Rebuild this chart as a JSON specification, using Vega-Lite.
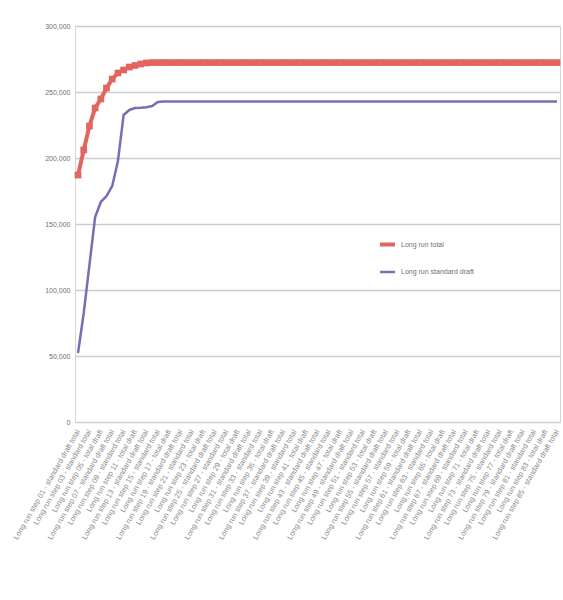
{
  "$schema": "https://vega.github.io/schema/vega-lite/v6.json",
  "width": 485,
  "height": 396,
  "autosize": "none",
  "padding": {"left": 75, "top": 26, "right": 3, "bottom": 178},
  "background": "#ffffff",
  "config": {"view": {"stroke": "#d6d6d6", "strokeWidth": 1}, "font": "Liberation Sans"},
  "data": {"values": [
    {"cat": "Long run step 01 - standard draft total", "Long run total": 187100, "Long run standard draft": 52300},
    {"cat": "Long run step 02 - total draft", "Long run total": 206100, "Long run standard draft": 82600},
    {"cat": "Long run step 03 - standard total", "Long run total": 224200, "Long run standard draft": 118900},
    {"cat": "Long run step 04 - standard draft total", "Long run total": 237900, "Long run standard draft": 155300},
    {"cat": "Long run step 05 - total draft", "Long run total": 244700, "Long run standard draft": 166700},
    {"cat": "Long run step 06 - standard total", "Long run total": 253000, "Long run standard draft": 171200},
    {"cat": "Long run step 07 - standard draft total", "Long run total": 259800, "Long run standard draft": 178800},
    {"cat": "Long run step 08 - total draft", "Long run total": 264400, "Long run standard draft": 197700},
    {"cat": "Long run step 09 - standard total", "Long run total": 266700, "Long run standard draft": 232600},
    {"cat": "Long run step 10 - standard draft total", "Long run total": 268900, "Long run standard draft": 236400},
    {"cat": "Long run step 11 - total draft", "Long run total": 270100, "Long run standard draft": 237900},
    {"cat": "Long run step 12 - standard total", "Long run total": 271200, "Long run standard draft": 238100},
    {"cat": "Long run step 13 - standard draft total", "Long run total": 272000, "Long run standard draft": 238400},
    {"cat": "Long run step 14 - total draft", "Long run total": 272300, "Long run standard draft": 239400},
    {"cat": "Long run step 15 - standard total", "Long run total": 272300, "Long run standard draft": 242400},
    {"cat": "Long run step 16 - standard draft total", "Long run total": 272300, "Long run standard draft": 242800},
    {"cat": "Long run step 17 - total draft", "Long run total": 272300, "Long run standard draft": 242800},
    {"cat": "Long run step 18 - standard total", "Long run total": 272300, "Long run standard draft": 242800},
    {"cat": "Long run step 19 - standard draft total", "Long run total": 272300, "Long run standard draft": 242800},
    {"cat": "Long run step 20 - total draft", "Long run total": 272300, "Long run standard draft": 242800},
    {"cat": "Long run step 21 - standard total", "Long run total": 272300, "Long run standard draft": 242800},
    {"cat": "Long run step 22 - standard draft total", "Long run total": 272300, "Long run standard draft": 242800},
    {"cat": "Long run step 23 - total draft", "Long run total": 272300, "Long run standard draft": 242800},
    {"cat": "Long run step 24 - standard total", "Long run total": 272300, "Long run standard draft": 242800},
    {"cat": "Long run step 25 - standard draft total", "Long run total": 272300, "Long run standard draft": 242800},
    {"cat": "Long run step 26 - total draft", "Long run total": 272300, "Long run standard draft": 242800},
    {"cat": "Long run step 27 - standard total", "Long run total": 272300, "Long run standard draft": 242800},
    {"cat": "Long run step 28 - standard draft total", "Long run total": 272300, "Long run standard draft": 242800},
    {"cat": "Long run step 29 - total draft", "Long run total": 272300, "Long run standard draft": 242800},
    {"cat": "Long run step 30 - standard total", "Long run total": 272300, "Long run standard draft": 242800},
    {"cat": "Long run step 31 - standard draft total", "Long run total": 272300, "Long run standard draft": 242800},
    {"cat": "Long run step 32 - total draft", "Long run total": 272300, "Long run standard draft": 242800},
    {"cat": "Long run step 33 - standard total", "Long run total": 272300, "Long run standard draft": 242800},
    {"cat": "Long run step 34 - standard draft total", "Long run total": 272300, "Long run standard draft": 242800},
    {"cat": "Long run step 35 - total draft", "Long run total": 272300, "Long run standard draft": 242800},
    {"cat": "Long run step 36 - standard total", "Long run total": 272300, "Long run standard draft": 242800},
    {"cat": "Long run step 37 - standard draft total", "Long run total": 272300, "Long run standard draft": 242800},
    {"cat": "Long run step 38 - total draft", "Long run total": 272300, "Long run standard draft": 242800},
    {"cat": "Long run step 39 - standard total", "Long run total": 272300, "Long run standard draft": 242800},
    {"cat": "Long run step 40 - standard draft total", "Long run total": 272300, "Long run standard draft": 242800},
    {"cat": "Long run step 41 - total draft", "Long run total": 272300, "Long run standard draft": 242800},
    {"cat": "Long run step 42 - standard total", "Long run total": 272300, "Long run standard draft": 242800},
    {"cat": "Long run step 43 - standard draft total", "Long run total": 272300, "Long run standard draft": 242800},
    {"cat": "Long run step 44 - total draft", "Long run total": 272300, "Long run standard draft": 242800},
    {"cat": "Long run step 45 - standard total", "Long run total": 272300, "Long run standard draft": 242800},
    {"cat": "Long run step 46 - standard draft total", "Long run total": 272300, "Long run standard draft": 242800},
    {"cat": "Long run step 47 - total draft", "Long run total": 272300, "Long run standard draft": 242800},
    {"cat": "Long run step 48 - standard total", "Long run total": 272300, "Long run standard draft": 242800},
    {"cat": "Long run step 49 - standard draft total", "Long run total": 272300, "Long run standard draft": 242800},
    {"cat": "Long run step 50 - total draft", "Long run total": 272300, "Long run standard draft": 242800},
    {"cat": "Long run step 51 - standard total", "Long run total": 272300, "Long run standard draft": 242800},
    {"cat": "Long run step 52 - standard draft total", "Long run total": 272300, "Long run standard draft": 242800},
    {"cat": "Long run step 53 - total draft", "Long run total": 272300, "Long run standard draft": 242800},
    {"cat": "Long run step 54 - standard total", "Long run total": 272300, "Long run standard draft": 242800},
    {"cat": "Long run step 55 - standard draft total", "Long run total": 272300, "Long run standard draft": 242800},
    {"cat": "Long run step 56 - total draft", "Long run total": 272300, "Long run standard draft": 242800},
    {"cat": "Long run step 57 - standard total", "Long run total": 272300, "Long run standard draft": 242800},
    {"cat": "Long run step 58 - standard draft total", "Long run total": 272300, "Long run standard draft": 242800},
    {"cat": "Long run step 59 - total draft", "Long run total": 272300, "Long run standard draft": 242800},
    {"cat": "Long run step 60 - standard total", "Long run total": 272300, "Long run standard draft": 242800},
    {"cat": "Long run step 61 - standard draft total", "Long run total": 272300, "Long run standard draft": 242800},
    {"cat": "Long run step 62 - total draft", "Long run total": 272300, "Long run standard draft": 242800},
    {"cat": "Long run step 63 - standard total", "Long run total": 272300, "Long run standard draft": 242800},
    {"cat": "Long run step 64 - standard draft total", "Long run total": 272300, "Long run standard draft": 242800},
    {"cat": "Long run step 65 - total draft", "Long run total": 272300, "Long run standard draft": 242800},
    {"cat": "Long run step 66 - standard total", "Long run total": 272300, "Long run standard draft": 242800},
    {"cat": "Long run step 67 - standard draft total", "Long run total": 272300, "Long run standard draft": 242800},
    {"cat": "Long run step 68 - total draft", "Long run total": 272300, "Long run standard draft": 242800},
    {"cat": "Long run step 69 - standard total", "Long run total": 272300, "Long run standard draft": 242800},
    {"cat": "Long run step 70 - standard draft total", "Long run total": 272300, "Long run standard draft": 242800},
    {"cat": "Long run step 71 - total draft", "Long run total": 272300, "Long run standard draft": 242800},
    {"cat": "Long run step 72 - standard total", "Long run total": 272300, "Long run standard draft": 242800},
    {"cat": "Long run step 73 - standard draft total", "Long run total": 272300, "Long run standard draft": 242800},
    {"cat": "Long run step 74 - total draft", "Long run total": 272300, "Long run standard draft": 242800},
    {"cat": "Long run step 75 - standard total", "Long run total": 272300, "Long run standard draft": 242800},
    {"cat": "Long run step 76 - standard draft total", "Long run total": 272300, "Long run standard draft": 242800},
    {"cat": "Long run step 77 - total draft", "Long run total": 272300, "Long run standard draft": 242800},
    {"cat": "Long run step 78 - standard total", "Long run total": 272300, "Long run standard draft": 242800},
    {"cat": "Long run step 79 - standard draft total", "Long run total": 272300, "Long run standard draft": 242800},
    {"cat": "Long run step 80 - total draft", "Long run total": 272300, "Long run standard draft": 242800},
    {"cat": "Long run step 81 - standard total", "Long run total": 272300, "Long run standard draft": 242800},
    {"cat": "Long run step 82 - standard draft total", "Long run total": 272300, "Long run standard draft": 242800},
    {"cat": "Long run step 83 - total draft", "Long run total": 272300, "Long run standard draft": 242800},
    {"cat": "Long run step 84 - standard total", "Long run total": 272300, "Long run standard draft": 242800},
    {"cat": "Long run step 85 - standard draft total", "Long run total": 272300, "Long run standard draft": 242800}
  ]},
  "transform": [
    {"fold": ["Long run total", "Long run standard draft"], "as": ["series", "value"]}
  ],
  "encoding": {
    "x": {
      "field": "cat", "type": "nominal", "sort": null,
      "scale": {"type": "point", "padding": 0.53},
      "axis": {"title": null, "labelAngle": -60, "labelFontSize": 7.5, "labelColor": "#8c8c8c",
               "ticks": false, "domain": true, "domainColor": "#d0d0d0", "labelPadding": 8,
               "labelLimit": 200, "labelOverlap": false, "grid": false,
               "values": [
                 "Long run step 01 - standard draft total", "Long run step 03 - standard total",
                 "Long run step 05 - total draft", "Long run step 07 - standard draft total",
                 "Long run step 09 - standard total", "Long run step 11 - total draft",
                 "Long run step 13 - standard draft total", "Long run step 15 - standard total",
                 "Long run step 17 - total draft", "Long run step 19 - standard draft total",
                 "Long run step 21 - standard total", "Long run step 23 - total draft",
                 "Long run step 25 - standard draft total", "Long run step 27 - standard total",
                 "Long run step 29 - total draft", "Long run step 31 - standard draft total",
                 "Long run step 33 - standard total", "Long run step 35 - total draft",
                 "Long run step 37 - standard draft total", "Long run step 39 - standard total",
                 "Long run step 41 - total draft", "Long run step 43 - standard draft total",
                 "Long run step 45 - standard total", "Long run step 47 - total draft",
                 "Long run step 49 - standard draft total", "Long run step 51 - standard total",
                 "Long run step 53 - total draft", "Long run step 55 - standard draft total",
                 "Long run step 57 - standard total", "Long run step 59 - total draft",
                 "Long run step 61 - standard draft total", "Long run step 63 - standard total",
                 "Long run step 65 - total draft", "Long run step 67 - standard draft total",
                 "Long run step 69 - standard total", "Long run step 71 - total draft",
                 "Long run step 73 - standard draft total", "Long run step 75 - standard total",
                 "Long run step 77 - total draft", "Long run step 79 - standard draft total",
                 "Long run step 81 - standard total", "Long run step 83 - total draft",
                 "Long run step 85 - standard draft total"
               ]}
    },
    "y": {
      "field": "value", "type": "quantitative",
      "scale": {"domain": [0, 300000], "nice": false},
      "axis": {"title": null, "values": [0, 50000, 100000, 150000, 200000, 250000, 300000],
               "format": ",d", "labelFontSize": 7, "labelColor": "#707070", "labelPadding": 5,
               "gridColor": "#cdcdcd", "gridWidth": 1.5, "domain": false, "ticks": false}
    },
    "color": {
      "field": "series", "type": "nominal",
      "scale": {"domain": ["Long run total", "Long run standard draft"], "range": ["#e2655f", "#7a6db5"]},
      "legend": {"title": null, "orient": "none", "legendX": 303, "legendY": 209,
                 "symbolType": "stroke", "symbolSize": 225, "symbolStrokeWidth": 3,
                 "labelFontSize": 7, "labelColor": "#707070", "rowPadding": 10}
    }
  },
  "layer": [
    {
      "mark": {"type": "line"},
      "encoding": {
        "strokeWidth": {"field": "series", "type": "nominal",
                        "scale": {"domain": ["Long run total", "Long run standard draft"], "range": [4, 2.5]},
                        "legend": null}
      }
    },
    {
      "transform": [{"filter": "datum.series === 'Long run total'"}],
      "mark": {"type": "point", "shape": "square", "filled": true, "size": 45, "opacity": 1}
    }
  ]
}
